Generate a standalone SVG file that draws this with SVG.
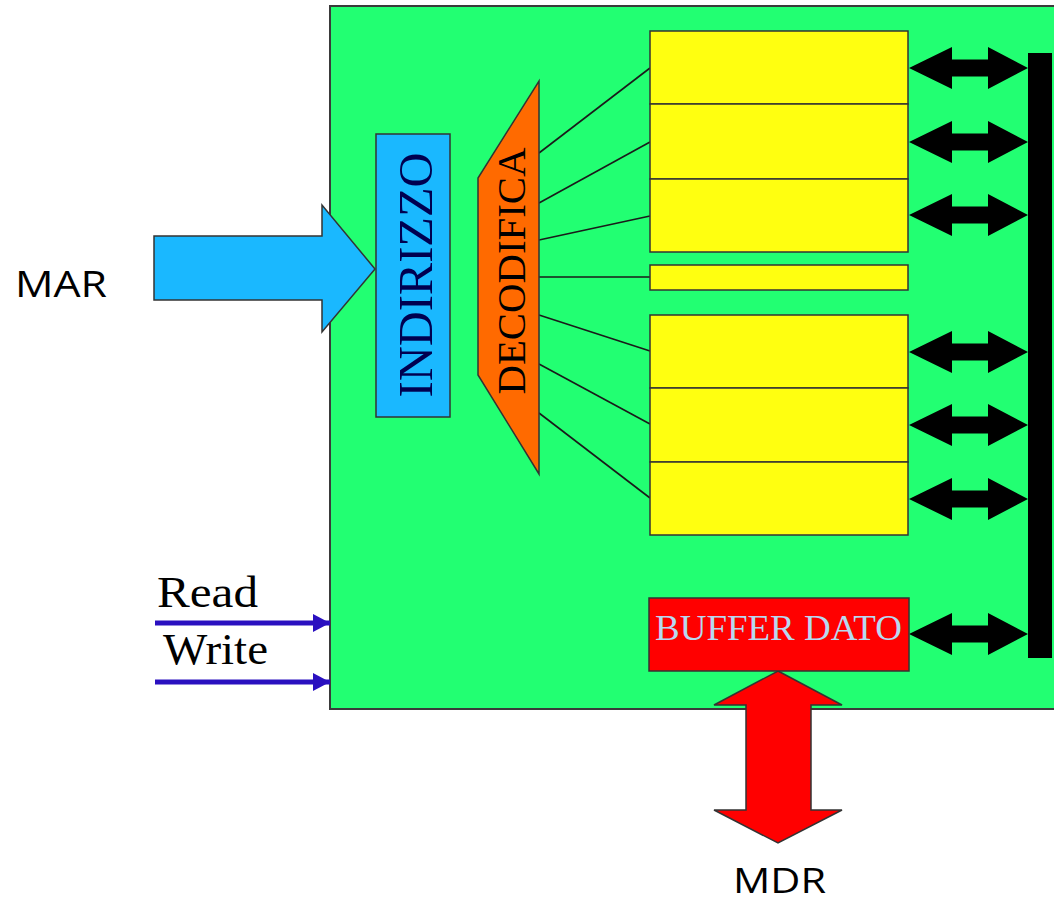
<svg xmlns="http://www.w3.org/2000/svg" width="1054" height="904" viewBox="0 0 1054 904">
<defs>
<style>
.cell{fill:#ffff10;stroke:#333;stroke-width:1.5}
.dec{stroke:#1a1a1a;stroke-width:1.6;fill:none}
.bi{fill:#000}
.serif{font-family:"Liberation Serif","Times New Roman",serif}
.sans{font-family:"Open Sans","Liberation Sans",sans-serif;fill:#000}
.sig{stroke:#2a10c0;stroke-width:5;fill:none}
</style>
<marker id="sigHead" markerUnits="userSpaceOnUse" markerWidth="18" markerHeight="20" refX="17" refY="10" orient="auto">
<path d="M0,1 L17,10 L0,19 Z" fill="#2a10c0"/>
</marker>
<path id="dblArrow" d="M0,0 L43,-21 L43,-8.5 L79,-8.5 L79,-21 L119,0 L79,21 L79,8.5 L43,8.5 L43,21 Z"/>
</defs>

<g id="memory">
<rect x="330" y="6" width="740" height="703" fill="#22ff72" stroke="#3a3a3a" stroke-width="2"/>
</g>

<g id="bus">
<rect x="1028" y="53" width="24" height="605" fill="#000"/>
</g>

<g id="connectors">
<line class="dec" x1="539" y1="153" x2="650" y2="68"/>
<line class="dec" x1="539" y1="203" x2="650" y2="142"/>
<line class="dec" x1="539" y1="240" x2="650" y2="216"/>
<line class="dec" x1="539" y1="277" x2="650" y2="277"/>
<line class="dec" x1="539" y1="315" x2="650" y2="351"/>
<line class="dec" x1="539" y1="364" x2="650" y2="424"/>
<line class="dec" x1="539" y1="413" x2="650" y2="498"/>
<use href="#dblArrow" class="bi" x="909" y="68"/>
<use href="#dblArrow" class="bi" x="909" y="142"/>
<use href="#dblArrow" class="bi" x="909" y="215"/>
<use href="#dblArrow" class="bi" x="909" y="352"/>
<use href="#dblArrow" class="bi" x="909" y="425"/>
<use href="#dblArrow" class="bi" x="909" y="499"/>
<use href="#dblArrow" class="bi" x="909" y="634"/>
<line class="sig" x1="155" y1="623" x2="330" y2="623" marker-end="url(#sigHead)"/>
<line class="sig" x1="155" y1="682" x2="330" y2="682" marker-end="url(#sigHead)"/>
<path d="M154,236 L322,236 L322,205 L375,269 L322,332 L322,300 L154,300 Z" fill="#1ab8ff" stroke="#333" stroke-width="1.5"/>
<path d="M778,671 L842,705 L811,705 L811,810 L842,810 L778,843 L714,810 L746,810 L746,705 L714,705 Z" fill="#ff0000" stroke="#333" stroke-width="1.5"/>
</g>

<g id="cells-top">
<rect class="cell" x="650" y="31" width="258" height="73"/>
<rect class="cell" x="650" y="104" width="258" height="75"/>
<rect class="cell" x="650" y="179" width="258" height="73"/>
</g>
<g id="cell-mid">
<rect class="cell" x="650" y="265" width="258" height="25"/>
</g>
<g id="cells-bottom">
<rect class="cell" x="650" y="315" width="258" height="73"/>
<rect class="cell" x="650" y="388" width="258" height="74"/>
<rect class="cell" x="650" y="462" width="258" height="73"/>
</g>

<g id="indirizzo">
<rect x="376" y="134" width="74" height="283" fill="#1ab8ff" stroke="#333" stroke-width="1.5"/>
<text class="serif" transform="translate(432,275) rotate(-90)" text-anchor="middle" font-size="49" fill="#000050" textLength="245" lengthAdjust="spacingAndGlyphs">INDIRIZZO</text>
</g>

<g id="decodifica">
<path d="M539,81 L539,474 L478,375 L478,178 Z" fill="#ff6a00" stroke="#333" stroke-width="1.5"/>
<text class="serif" transform="translate(525,271) rotate(-90)" text-anchor="middle" font-size="41" fill="#000" textLength="247" lengthAdjust="spacingAndGlyphs">DECODIFICA</text>
</g>

<g id="buffer">
<rect x="649" y="598" width="260" height="73" fill="#ff0000" stroke="#333" stroke-width="1.5"/>
<text class="serif" x="655" y="640" font-size="36" fill="#b8d8f0" textLength="247" lengthAdjust="spacingAndGlyphs">BUFFER DATO</text>
</g>

<g id="labels">
<text class="sans" x="15" y="297" font-size="37" textLength="92" lengthAdjust="spacingAndGlyphs">MAR</text>
<text class="sans" x="733" y="893" font-size="35" textLength="93" lengthAdjust="spacingAndGlyphs">MDR</text>
<text class="serif" x="157" y="607" font-size="45" fill="#000" textLength="101" lengthAdjust="spacingAndGlyphs">Read</text>
<text class="serif" x="163" y="664" font-size="45" fill="#000" textLength="105" lengthAdjust="spacingAndGlyphs">Write</text>
</g>
</svg>
